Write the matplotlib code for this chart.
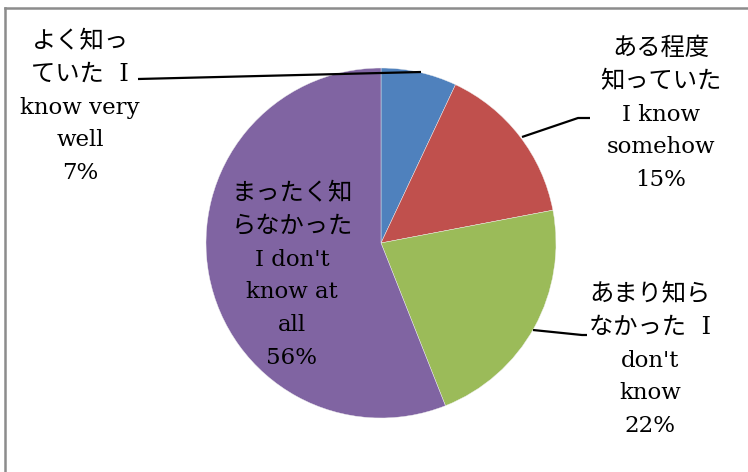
import numpy as np
import matplotlib
matplotlib.use("Agg")
from matplotlib import pyplot as plt
from matplotlib.lines import Line2D

# survey answers, clockwise from 12 o'clock
label_lines = [
    ["よく知っ", "ていた  I", "know very", "well"],
    ["ある程度", "知っていた", "I know", "somehow"],
    ["あまり知ら", "なかった  I", "don't", "know"],
    ["まったく知", "らなかった", "I don't", "know at", "all"],
]
shares = [7, 15, 22, 56]
colors = ["#4F81BD", "#C0504D", "#9BBB59", "#8064A2"]

W, H = 748, 472
fig = plt.figure(figsize=(W / 100, H / 100), dpi=100)
ax = fig.add_axes([0, 0, 1, 1])

cx, cy, r = 381, H - 243, 175
ax.pie(shares, colors=colors, startangle=90, counterclock=False,
       center=(cx, cy), radius=r,
       wedgeprops=dict(linewidth=0.3, edgecolor="#f0f0f0"))
ax.set_xlim(0, W)
ax.set_ylim(0, H)
ax.set_aspect("equal")
ax.axis("off")

font = ["DejaVu Serif", "Noto Sans CJK JP"]

# label anchors: centre x, centre of first line (from top)
label_pos = [(80, 40), (661, 47), (650, 293), (292, 192)]
line_step = 32.8
leaders = [
    [(138, 79), (421, 72)],
    [(522, 137), (578, 118), (590, 118)],
    [(533, 330), (582, 335), (587, 335)],
    None,
]

for lines, pct, (lx, ly), lead in zip(label_lines, shares, label_pos, leaders):
    for i, s in enumerate(lines + ["%d%%" % pct]):
        cjk = any(ord(c) > 0x3000 for c in s)
        ax.text(lx, H - (ly + 8 + i * line_step), s, ha="center", va="baseline",
                fontsize=17.5 if cjk else 16.5, family=font, color="black")
    if lead is not None:
        xs = [p[0] for p in lead]
        ys = [H - p[1] for p in lead]
        ax.plot(xs, ys, color="black", lw=1.6, solid_capstyle="butt")

# chart border (left and top edges visible)
fig.add_artist(Line2D([5 / W, 5 / W], [0, 1 - 8 / H], color="#8c8c8c", lw=1.8))
fig.add_artist(Line2D([5 / W, 1], [1 - 8 / H, 1 - 8 / H], color="#8c8c8c", lw=1.8))

fig.savefig("out.png", dpi=100)
